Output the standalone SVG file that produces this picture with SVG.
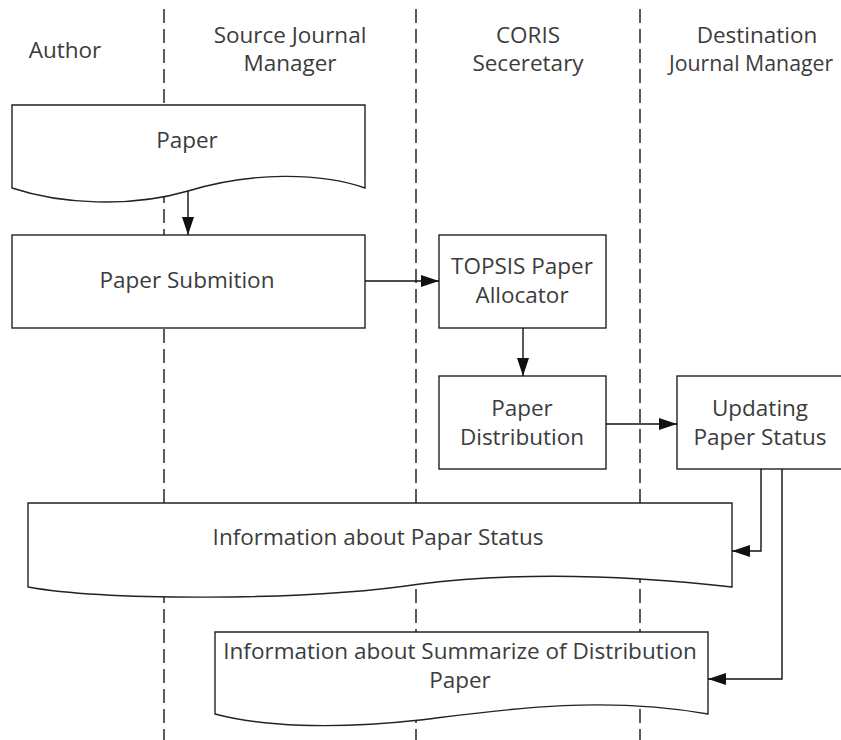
<svg xmlns="http://www.w3.org/2000/svg" width="841" height="740" viewBox="0 0 841 740">
<defs>
<style>
.lane{stroke:#333;stroke-width:1.6;stroke-dasharray:14 6;fill:none}
.shape{fill:#fff;stroke:#222;stroke-width:1.4}
.conn{fill:none;stroke:#111;stroke-width:1.4}
text{font-family:"Open Sans","Liberation Sans",sans-serif;font-size:22.5px;fill:#3c3c3c;text-anchor:middle}
</style>
<marker id="arr" markerUnits="userSpaceOnUse" markerWidth="19" markerHeight="13" refX="18" refY="6" orient="auto">
<path d="M0,0 L18,6 L0,12 z" fill="#111"/>
</marker>
</defs>
<rect width="841" height="740" fill="#fff"/>
<g id="lanes">
<line class="lane" x1="164" y1="9" x2="164" y2="740"/>
<line class="lane" x1="416" y1="9" x2="416" y2="740"/>
<line class="lane" x1="640" y1="9" x2="640" y2="740"/>
</g>
<g id="headers">
<text x="65" y="58">Author</text>
<text x="290" y="43">Source Journal</text>
<text x="290" y="71">Manager</text>
<text x="528" y="43">CORIS</text>
<text x="528" y="71">Seceretary</text>
<text x="757" y="43">Destination</text>
<text x="669" y="71" style="text-anchor:start;font-size:21.3px">Journal Manager</text>
</g>
<g id="paper">
<path class="shape" d="M12,105 H365 V188 C320,172 250,172 188,191 C130,208 60,204 12,188 Z"/>
<text x="187" y="148">Paper</text>
</g>
<g id="paper-submition">
<rect class="shape" x="12" y="235" width="353" height="93"/>
<text x="187" y="288">Paper Submition</text>
</g>
<g id="topsis">
<rect class="shape" x="439" y="235" width="167" height="93"/>
<text x="522" y="274">TOPSIS Paper</text>
<text x="522" y="303">Allocator</text>
</g>
<g id="paper-distribution">
<rect class="shape" x="439" y="376" width="167" height="93"/>
<text x="522" y="416">Paper</text>
<text x="522" y="445">Distribution</text>
</g>
<g id="updating-status">
<rect class="shape" x="677" y="376" width="180" height="93"/>
<text x="760" y="416">Updating</text>
<text x="760" y="445">Paper Status</text>
</g>
<g id="info-status">
<path class="shape" d="M28,503 H732 V587 C600,572 500,574 420,584 C300,602 100,600 28,587 Z"/>
<text x="378" y="545">Information about Papar Status</text>
</g>
<g id="info-summarize">
<path class="shape" d="M215,632 H708 V714 C600,695 500,710 420,720 C330,730 260,726 215,714 Z"/>
<text x="460" y="659">Information about Summarize of Distribution</text>
<text x="460" y="688">Paper</text>
</g>
<g id="connectors">
<line class="conn" x1="188" y1="191" x2="188" y2="235" marker-end="url(#arr)"/>
<line class="conn" x1="365" y1="281" x2="439" y2="281" marker-end="url(#arr)"/>
<line class="conn" x1="523" y1="328" x2="523" y2="376" marker-end="url(#arr)"/>
<line class="conn" x1="606" y1="424" x2="677" y2="424" marker-end="url(#arr)"/>
<polyline class="conn" points="761,469 761,551 732,551" marker-end="url(#arr)"/>
<polyline class="conn" points="782,469 782,679 708,679" marker-end="url(#arr)"/>
</g>
</svg>
